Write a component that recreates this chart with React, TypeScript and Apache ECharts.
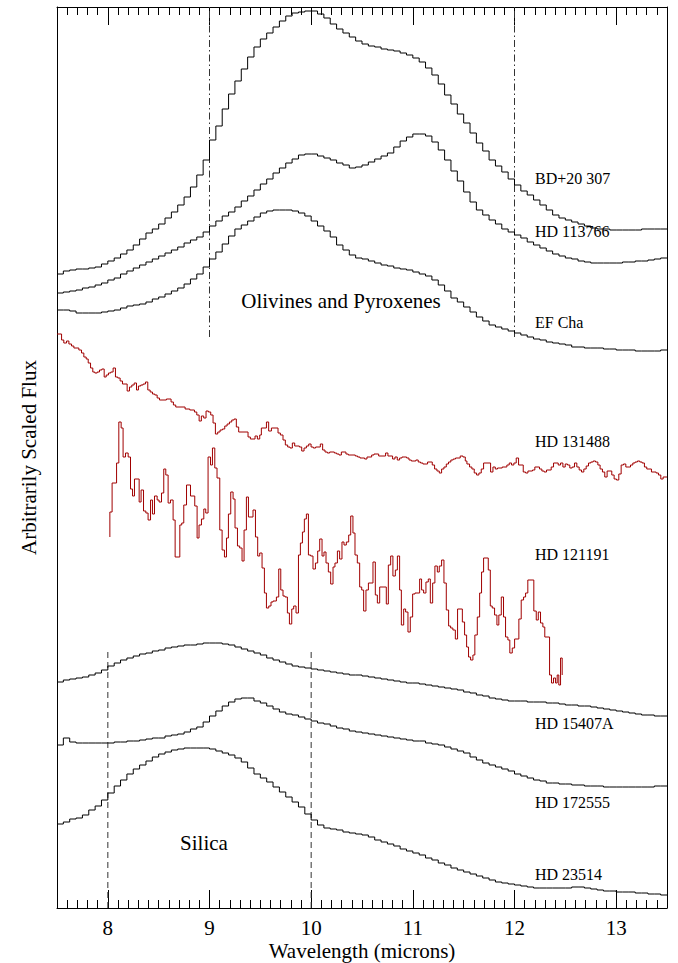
import React, { useEffect, useRef } from "react";
import * as echarts from "echarts";

// ---- axis ranges ----
const X_MIN = 7.5;
const X_MAX = 13.5;
const Y_MIN = 0;
const Y_MAX = 901;
const tickLabels = [8, 9, 10, 11, 12, 13];

// ---- binned (histogram-style) spectra: wavelength grid start + bin width ----
const BIN_START = 7.5;
const BIN_WIDTH = 0.0625;

const bd20307 = [
  634, 637, 638, 639, 639, 640, 641, 644, 647, 650,
  654, 658, 663, 669, 675, 679, 684, 690, 696, 703,
  711, 721, 733, 748, 768, 782, 799, 814, 827, 839,
  851, 861, 869, 875, 881, 887, 892, 895, 896, 897,
  897, 894, 890, 884, 879, 875, 871, 867, 864, 862,
  861, 859, 858, 857, 855, 853, 850, 846, 840, 833,
  824, 813, 804, 794, 785, 775, 765, 757, 748, 742,
  736, 729, 723, 717, 713, 708, 703, 698, 693, 690,
  688, 686, 684, 682, 680, 679, 679, 678, 678, 678,
  678, 678, 679, 679, 679, 679,
];
const hd113766 = [
  615, 616, 617, 618, 620, 621, 623, 625, 628, 630,
  634, 637, 640, 643, 646, 649, 652, 655, 658, 661,
  665, 668, 671, 676, 682, 687, 692, 696, 701, 707,
  712, 718, 724, 729, 735, 740, 745, 749, 753, 754,
  754, 752, 750, 748, 745, 743, 740, 741, 743, 746,
  749, 752, 755, 761, 767, 771, 774, 774, 772, 766,
  758, 748, 737, 727, 716, 706, 698, 693, 688, 684,
  679, 676, 673, 670, 666, 663, 660, 657, 654, 652,
  650, 649, 647, 646, 645, 645, 645, 645, 645, 646,
  646, 647, 647, 648, 649, 650,
];
const efCha = [
  598, 598, 597, 595, 595, 595, 595, 596, 597, 598,
  600, 602, 603, 604, 606, 609, 611, 614, 617, 620,
  624, 629, 634, 641, 649, 656, 664, 672, 679, 683,
  687, 691, 695, 697, 698, 698, 698, 697, 695, 692,
  687, 682, 677, 671, 663, 658, 653, 650, 649, 647,
  645, 643, 642, 640, 639, 638, 636, 634, 632, 628,
  623, 617, 610, 606, 601, 596, 591, 587, 583, 581,
  579, 577, 575, 573, 571, 569, 568, 566, 565, 564,
  563, 561, 561, 560, 560, 560, 559, 559, 558, 558,
  558, 557, 557, 557, 557, 558,
];
const hd15407a = [
  226, 228, 229, 230, 231, 233, 235, 238, 242, 245,
  248, 250, 252, 254, 255, 257, 258, 260, 261, 262,
  263, 263, 264, 265, 265, 265, 264, 263, 261, 259,
  257, 255, 253, 250, 248, 246, 244, 242, 241, 240,
  239, 238, 237, 236, 235, 234, 233, 233, 232, 231,
  230, 229, 228, 227, 226, 225, 225, 224, 223, 222,
  221, 220, 219, 218, 216, 215, 213, 212, 210, 209,
  208, 207, 207, 207, 206, 206, 206, 205, 205, 204,
  203, 203, 202, 202, 201, 200, 199, 198, 197, 196,
  195, 194, 193, 193, 192, 192,
];
const hd172555 = [
  163, 170, 166, 165, 165, 165, 165, 165, 165, 166,
  166, 167, 167, 168, 169, 170, 170, 172, 173, 174,
  176, 179, 181, 186, 192, 197, 202, 206, 209, 210,
  210, 207, 205, 202, 199, 196, 194, 193, 191, 189,
  187, 185, 184, 182, 180, 179, 177, 176, 175, 174,
  173, 172, 171, 170, 169, 168, 167, 167, 165, 164,
  163, 161, 159, 157, 155, 151, 148, 145, 143, 141,
  139, 137, 134, 132, 130, 128, 127, 125, 125, 124,
  124, 123, 123, 122, 122, 122, 121, 121, 121, 121,
  121, 121, 121, 121, 122, 122,
];
const hd23514 = [
  84, 86, 89, 90, 93, 98, 102, 108, 115, 122,
  128, 134, 139, 143, 147, 151, 154, 156, 158, 159,
  160, 160, 160, 160, 159, 157, 155, 153, 150, 146,
  140, 134, 130, 126, 121, 116, 111, 106, 101, 94,
  88, 83, 80, 79, 78, 76, 75, 74, 73, 71,
  68, 66, 64, 62, 59, 57, 55, 53, 50, 48,
  45, 43, 40, 38, 36, 34, 32, 30, 28, 26,
  25, 24, 23, 22, 21, 20, 20, 20, 20, 20,
  20, 21, 21, 20, 19, 18, 17, 17, 16, 16,
  16, 15, 15, 14, 14, 13,
];

// ---- noisy spectra: step start wavelengths and fluxes ----
const hd131488Wave = [
  7.5, 7.545, 7.567, 7.594, 7.617, 7.643, 7.666, 7.715, 7.741, 7.764,
  7.787, 7.807, 7.83, 7.852, 7.872, 7.895, 7.918, 7.941, 7.964, 7.984,
  8.006, 8.029, 8.052, 8.075, 8.098, 8.121, 8.144, 8.19, 8.213, 8.236,
  8.259, 8.282, 8.301, 8.324, 8.347, 8.37, 8.393, 8.416, 8.439, 8.462,
  8.485, 8.508, 8.576, 8.622, 8.645, 8.668, 8.76, 8.806, 8.852, 8.875,
  8.898, 8.92, 8.943, 8.966, 8.989, 9.012, 9.035, 9.058, 9.081, 9.104,
  9.127, 9.15, 9.173, 9.196, 9.219, 9.242, 9.264, 9.287, 9.379, 9.402,
  9.448, 9.471, 9.494, 9.51, 9.56, 9.582, 9.609, 9.674, 9.697, 9.723,
  9.746, 9.769, 9.792, 9.815, 9.838, 9.884, 9.907, 9.93, 9.953, 9.976,
  9.999, 10.021, 10.044, 10.09, 10.113, 10.136, 10.159, 10.182, 10.228, 10.251,
  10.274, 10.297, 10.342, 10.365, 10.434, 10.457, 10.48, 10.526, 10.549, 10.595,
  10.618, 10.664, 10.732, 10.755, 10.801, 10.824, 10.847, 10.87, 10.893, 10.939,
  10.962, 10.985, 11.03, 11.053, 11.076, 11.099, 11.145, 11.191, 11.214, 11.237,
  11.26, 11.283, 11.306, 11.329, 11.351, 11.374, 11.397, 11.42, 11.466, 11.493,
  11.516, 11.532, 11.558, 11.581, 11.604, 11.627, 11.65, 11.673, 11.696, 11.765,
  11.788, 11.811, 11.833, 11.879, 11.925, 11.948, 11.971, 11.994, 12.017, 12.04,
  12.086, 12.109, 12.132, 12.177, 12.2, 12.246, 12.269, 12.292, 12.315, 12.361,
  12.384, 12.43, 12.453, 12.476, 12.499, 12.521, 12.544, 12.567, 12.59, 12.613,
  12.636, 12.659, 12.682, 12.705, 12.728, 12.751, 12.774, 12.797, 12.82, 12.842,
  12.865, 12.888, 12.911, 12.957, 12.98, 13.003, 13.026, 13.049, 13.072, 13.095,
  13.141, 13.164, 13.186, 13.209, 13.232, 13.255, 13.278, 13.301, 13.347, 13.393,
  13.416, 13.439, 13.462, 13.5,
];
const hd131488Flux = [
  574, 568, 565, 567, 564, 562, 560, 558, 555, 551,
  549, 545, 540, 536, 535, 536, 538, 539, 531, 533,
  535, 536, 540, 531, 530, 527, 524, 517, 521, 523,
  525, 518, 522, 523, 524, 526, 518, 516, 514, 513,
  510, 508, 509, 506, 503, 501, 499, 498, 496, 493,
  487, 492, 490, 497, 496, 493, 485, 474, 476, 478,
  479, 482, 484, 486, 488, 489, 481, 476, 471, 469,
  472, 469, 473, 480, 486, 477, 480, 475, 473, 468,
  463, 461, 460, 465, 462, 461, 457, 460, 462, 464,
  461, 460, 461, 464, 458, 456, 455, 456, 455, 454,
  453, 456, 454, 453, 452, 451, 450, 449, 451, 453,
  454, 452, 455, 452, 449, 451, 448, 450, 451, 450,
  448, 447, 448, 446, 445, 444, 446, 443, 439, 437,
  435, 439, 441, 444, 446, 448, 449, 450, 452, 451,
  447, 444, 441, 439, 435, 433, 435, 439, 445, 436,
  441, 439, 440, 441, 443, 445, 443, 445, 450, 443,
  436, 435, 437, 438, 441, 439, 437, 436, 438, 441,
  445, 443, 445, 441, 444, 443, 440, 441, 445, 441,
  438, 436, 439, 442, 445, 446, 447, 446, 443, 439,
  436, 431, 437, 433, 429, 428, 434, 443, 444, 441,
  443, 445, 446, 447, 446, 445, 441, 439, 436, 435,
  433, 429, 431, 431,
];

const hd121191Wave = [
  8.02, 8.02, 8.042, 8.086, 8.108, 8.131, 8.15, 8.174, 8.2, 8.223,
  8.243, 8.262, 8.308, 8.327, 8.351, 8.374, 8.396, 8.42, 8.439, 8.459,
  8.485, 8.504, 8.528, 8.55, 8.57, 8.593, 8.616, 8.642, 8.662, 8.708,
  8.727, 8.747, 8.774, 8.813, 8.855, 8.878, 8.897, 8.921, 8.944, 8.963,
  8.986, 9.01, 9.029, 9.052, 9.074, 9.101, 9.124, 9.147, 9.167, 9.186,
  9.209, 9.232, 9.251, 9.275, 9.297, 9.32, 9.34, 9.363, 9.383, 9.428,
  9.452, 9.474, 9.494, 9.517, 9.54, 9.56, 9.583, 9.605, 9.625, 9.658,
  9.681, 9.701, 9.723, 9.743, 9.766, 9.786, 9.809, 9.828, 9.851, 9.875,
  9.894, 9.914, 9.933, 9.953, 9.973, 9.995, 10.018, 10.042, 10.064, 10.084,
  10.107, 10.126, 10.146, 10.169, 10.192, 10.215, 10.234, 10.258, 10.28, 10.303,
  10.323, 10.346, 10.369, 10.389, 10.411, 10.431, 10.454, 10.477, 10.497, 10.516,
  10.539, 10.563, 10.608, 10.631, 10.651, 10.674, 10.716, 10.739, 10.759, 10.782,
  10.804, 10.828, 10.848, 10.87, 10.887, 10.91, 10.929, 10.952, 10.975, 10.998,
  11.021, 11.067, 11.086, 11.106, 11.129, 11.152, 11.172, 11.195, 11.217, 11.241,
  11.26, 11.283, 11.306, 11.329, 11.352, 11.372, 11.394, 11.418, 11.44, 11.487,
  11.509, 11.529, 11.548, 11.568, 11.591, 11.61, 11.634, 11.657, 11.676, 11.696,
  11.742, 11.762, 11.781, 11.804, 11.827, 11.846, 11.87, 11.892, 11.912, 11.935,
  11.954, 11.978, 12.001, 12.043, 12.066, 12.089, 12.109, 12.131, 12.19, 12.214,
  12.234, 12.256, 12.279, 12.298, 12.345, 12.364, 12.384, 12.404, 12.42, 12.436,
  12.453, 12.469,
];
const hd121191Flux = [
  371, 396, 425, 445, 486, 480, 451, 455, 451, 419,
  412, 429, 406, 418, 397, 395, 388, 408, 394, 412,
  408, 406, 415, 439, 433, 405, 408, 388, 351, 383,
  385, 403, 423, 412, 402, 370, 383, 389, 399, 395,
  451, 443, 460, 440, 430, 378, 358, 351, 370, 394,
  416, 409, 380, 362, 360, 347, 378, 411, 391, 398,
  371, 352, 355, 340, 315, 300, 302, 306, 307, 311,
  339, 318, 312, 311, 295, 284, 299, 302, 295, 353,
  365, 376, 389, 394, 353, 352, 339, 345, 357, 369,
  352, 356, 345, 336, 324, 341, 345, 357, 349, 366,
  363, 366, 373, 392, 375, 353, 345, 321, 318, 297,
  318, 325, 346, 313, 305, 321, 321, 304, 343, 352,
  332, 338, 352, 318, 283, 299, 296, 276, 291, 314,
  315, 329, 318, 315, 326, 329, 305, 325, 342, 336,
  342, 348, 325, 298, 282, 280, 278, 269, 299, 286,
  273, 261, 251, 248, 253, 273, 291, 315, 336, 350,
  338, 302, 300, 293, 283, 293, 311, 291, 271, 268,
  255, 260, 269, 289, 308, 311, 315, 328, 297, 288,
  296, 285, 281, 271, 233, 225, 230, 225, 233, 223,
  250, 233,
];

// ---- reference feature lines (wavelength, flux span) ----
const olivineLines = [9, 12];
const olivineSpan = [571, 901];
const silicaLines = [8, 10];
const silicaSpan = [0, 256];

// ---- text ----
const curveNames = ["BD+20 307", "HD 113766", "EF Cha", "HD 131488", "HD 121191", "HD 15407A", "HD 172555", "HD 23514"];
const featureNames = ["Olivines and Pyroxenes", "Silica"];
const xTitle = "Wavelength (microns)";
const yTitle = "Arbitrarily Scaled Flux";

const SERIF = "Liberation Serif";
const RED = "#a00000";

function binned(values: number[]) {
  const pts = values.map((v, k) => [BIN_START + k * BIN_WIDTH, v]);
  pts.push([BIN_START + values.length * BIN_WIDTH, values[values.length - 1]]);
  return pts;
}
function paired(xs: number[], ys: number[]) {
  return xs.map((x, i) => [x, ys[i]]);
}

export default function App() {
  const ref = useRef<HTMLDivElement>(null);
  useEffect(() => {
    if (!ref.current) return;
    const chart = echarts.init(ref.current, null, { renderer: "svg" });

    const stepSeries = (name: string, data: number[][], color: string) => ({
      name,
      type: "line",
      step: "end",
      data,
      symbol: "none",
      showSymbol: false,
      silent: true,
      xAxisIndex: 0,
      yAxisIndex: 0,
      lineStyle: { color, width: 1 },
    });
    const vLine = (x: number, span: number[], dash: number[]) => ({
      type: "line",
      data: [[x, span[0]], [x, span[1]]],
      symbol: "none",
      silent: true,
      xAxisIndex: 0,
      yAxisIndex: 0,
      lineStyle: { color: "#333", width: 1, type: dash },
    });

    const labelYs = [178, 231, 322, 441, 554, 723, 802, 874];

    const option: any = {
      animation: false,
      backgroundColor: "#fff",
      grid: { left: 57, right: 11, top: 7, bottom: 55, containLabel: false, outerBoundsMode: "none" },
      xAxis: [
        {
          type: "value", position: "bottom", min: X_MIN, max: X_MAX, interval: 0.1,
          axisLine: { show: true, onZero: false, lineStyle: { color: "#000", width: 1 } },
          axisTick: { show: true, inside: true, length: 8, lineStyle: { color: "#000" } },
          axisLabel: { show: false },
          splitLine: { show: false },
        },
        {
          type: "value", position: "bottom", min: X_MIN, max: X_MAX, interval: 0.5,
          axisLine: { show: false, onZero: false },
          axisTick: { show: true, inside: true, length: 18, customValues: tickLabels, lineStyle: { color: "#000" } },
          axisLabel: {
            show: true, customValues: tickLabels, fontSize: 21, lineHeight: 20,
            fontFamily: SERIF, color: "#000", margin: 10,
          },
          splitLine: { show: false },
        },
        {
          type: "value", position: "top", min: X_MIN, max: X_MAX, interval: 0.1,
          axisLine: { show: true, onZero: false, lineStyle: { color: "#000", width: 1 } },
          axisTick: { show: true, inside: true, length: 8, lineStyle: { color: "#000" } },
          axisLabel: { show: false },
          splitLine: { show: false },
        },
        {
          type: "value", position: "top", min: X_MIN, max: X_MAX, interval: 0.5,
          axisLine: { show: false, onZero: false },
          axisTick: { show: true, inside: true, length: 18, customValues: tickLabels, lineStyle: { color: "#000" } },
          axisLabel: { show: false },
          splitLine: { show: false },
        },
      ],
      yAxis: [
        {
          type: "value", position: "left", min: Y_MIN, max: Y_MAX,
          axisLine: { show: true, onZero: false, lineStyle: { color: "#000", width: 1 } },
          axisTick: { show: false }, axisLabel: { show: false }, splitLine: { show: false },
          name: yTitle, nameLocation: "middle", nameGap: 18,
          nameTextStyle: { fontSize: 21, fontFamily: SERIF, color: "#000" },
        },
        {
          type: "value", position: "right", min: Y_MIN, max: Y_MAX,
          axisLine: { show: true, onZero: false, lineStyle: { color: "#000", width: 1 } },
          axisTick: { show: false }, axisLabel: { show: false }, splitLine: { show: false },
        },
      ],
      series: [
        ...olivineLines.map((x) => vLine(x, olivineSpan, [7, 3, 1.5, 3])),
        ...silicaLines.map((x) => vLine(x, silicaSpan, [6, 4])),
        stepSeries(curveNames[0], binned(bd20307), "#000"),
        stepSeries(curveNames[1], binned(hd113766), "#000"),
        stepSeries(curveNames[2], binned(efCha), "#000"),
        stepSeries(curveNames[3], paired(hd131488Wave, hd131488Flux), RED),
        stepSeries(curveNames[4], paired(hd121191Wave, hd121191Flux), RED),
        stepSeries(curveNames[5], binned(hd15407a), "#000"),
        stepSeries(curveNames[6], binned(hd172555), "#000"),
        stepSeries(curveNames[7], binned(hd23514), "#000"),
      ],
      graphic: [
        ...curveNames.map((t, i) => ({
          type: "text", x: 535, y: labelYs[i], silent: true,
          style: { text: t, fontSize: 16, fontFamily: SERIF, fill: "#000", align: "left", verticalAlign: "middle" },
        })),
        {
          type: "text", x: 341, y: 301, silent: true,
          style: { text: featureNames[0], fontSize: 21, fontFamily: SERIF, fill: "#000", align: "center", verticalAlign: "middle" },
        },
        {
          type: "text", x: 204, y: 843, silent: true,
          style: { text: featureNames[1], fontSize: 21, fontFamily: SERIF, fill: "#000", align: "center", verticalAlign: "middle" },
        },
        {
          type: "text", x: 362, y: 951, silent: true,
          style: { text: xTitle, fontSize: 21, lineHeight: 20, fontFamily: SERIF, fill: "#000", align: "center", verticalAlign: "middle" },
        },
      ],
    };
    chart.setOption(option);
    return () => chart.dispose();
  }, []);
  return (
    <div
      ref={ref}
      style={{ position: "fixed", left: 0, top: 0, width: 678, height: 963, background: "#fff" }}
    />
  );
}
